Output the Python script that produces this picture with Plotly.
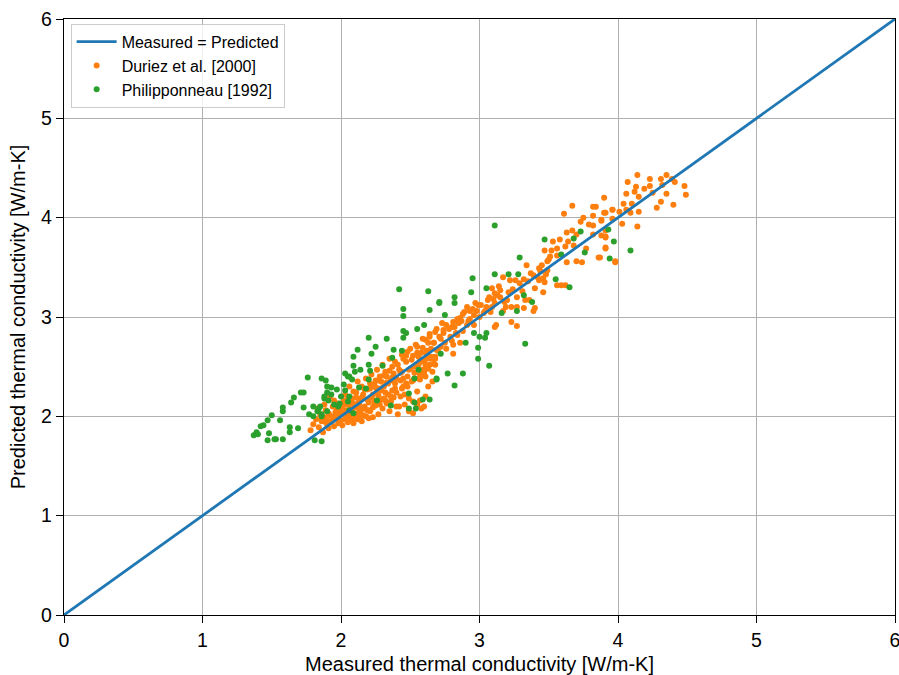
import plotly.graph_objects as go

# Reference line
line_x = [0, 6]
line_y = [0, 6]

# Duriez et al. [2000] (orange)
duriez_x = [
    1.78, 1.80, 1.82, 1.84, 1.85, 1.86, 1.87, 1.88, 1.89, 1.90, 1.91, 1.92, 1.93, 1.94, 1.95, 1.96, 1.97, 1.98, 1.99, 2.00,
    1.83, 1.88, 1.95, 1.92, 1.98,
    2.01, 2.02, 2.03, 2.04, 2.05, 2.06, 2.07, 2.08, 2.09, 2.10, 2.11, 2.12, 2.13, 2.14, 2.15, 2.16, 2.17, 2.18, 2.19, 2.20,
    2.03, 2.06, 2.09, 2.12, 2.15, 2.18, 2.11, 2.07, 2.02, 2.13, 2.16, 2.19, 2.05, 2.08, 2.14, 2.20, 2.04, 2.10,
    2.21, 2.22, 2.23, 2.24, 2.25, 2.26, 2.27, 2.28, 2.29, 2.30, 2.31, 2.32, 2.33, 2.34, 2.35, 2.36, 2.37, 2.38, 2.39, 2.40,
    2.22, 2.25, 2.28, 2.30, 2.33, 2.35, 2.38, 2.21, 2.24, 2.27, 2.31, 2.34, 2.37, 2.26, 2.29, 2.32, 2.36, 2.39, 2.23, 2.40,
    2.41, 2.42, 2.43, 2.44, 2.45, 2.46, 2.47, 2.48, 2.49, 2.50, 2.51, 2.52, 2.53, 2.54, 2.55, 2.56, 2.57, 2.58, 2.59, 2.60,
    2.61, 2.62, 2.63, 2.64, 2.65, 2.66, 2.67, 2.68, 2.69, 2.70,
    2.44, 2.47, 2.50, 2.53, 2.56, 2.59, 2.62, 2.45, 2.48, 2.52, 2.55, 2.58, 2.43, 2.46, 2.42, 2.55, 2.52, 2.57, 2.60, 2.49,
    2.63, 2.66, 2.61,
    2.62, 2.69, 2.58, 2.65, 2.81, 2.61, 2.67, 2.62, 2.57, 2.58, 2.68,
    2.64, 2.71, 2.79, 2.83, 2.61, 2.67, 2.75, 2.81, 2.86, 2.73, 2.74, 2.68, 2.76, 2.80, 2.85, 2.91,
    2.81, 2.86, 2.96, 2.99, 2.91, 2.93, 2.97, 2.88,
    3.06, 3.05, 3.09, 3.11, 3.19, 3.23, 3.27, 3.32, 3.17, 3.09, 3.11, 3.15, 3.20, 3.14, 3.21, 3.27, 3.33, 3.36, 3.40, 3.39,
    3.17, 3.22, 3.26, 3.32, 3.35, 3.40, 3.46, 3.12, 3.11, 3.23, 3.27,
    3.34, 3.43, 3.44, 3.49, 3.39, 3.43, 3.46, 3.47, 3.56, 3.59, 3.62,
    3.53, 3.58, 3.64, 3.52, 3.47, 3.56, 3.62, 3.68, 3.49, 3.51, 3.56, 3.63, 3.70, 3.74, 3.86, 3.98, 3.91, 3.77,
    3.67, 3.82, 3.84, 3.96, 3.61, 3.82, 3.90, 3.75, 3.73, 3.79, 3.88, 3.82, 3.63, 3.67, 3.70, 3.82, 3.91,
    4.14, 4.23, 4.31, 4.35, 4.39, 4.41, 4.07, 4.48, 4.13, 4.23, 4.32, 4.12, 4.19, 4.06, 4.25, 4.35, 4.49, 4.15, 3.90, 4.31,
    4.04, 4.40, 4.28, 4.10, 4.06, 4.09, 4.15, 3.91, 3.96, 4.01, 3.88, 3.96, 4.03, 4.14, 3.91, 3.88, 3.91, 3.91, 3.87, 3.98,
    1.86, 1.89, 1.91, 1.94, 1.97, 1.99, 2.01, 2.03, 2.05, 2.07, 2.09, 2.11, 2.13, 2.15, 2.17, 2.19, 2.21, 2.23, 2.25, 2.27,
    2.29, 2.31, 2.33, 2.35, 2.37, 2.39, 2.41, 2.43, 2.45, 2.47, 2.49, 2.51, 2.53, 2.55, 2.57, 2.59, 2.61, 2.63, 2.65, 2.67,
    1.90, 1.96, 2.00, 2.04, 2.08, 2.12, 2.16, 2.20, 2.24, 2.28, 2.32, 2.36, 2.40, 2.44, 2.48, 2.52, 2.56, 2.60, 2.64, 2.68,
    2.72, 2.76, 2.80, 2.84, 2.88, 2.92, 2.96, 3.00, 3.04, 3.08,
    2.72, 2.74, 2.78, 2.82, 2.84, 2.87, 2.89, 2.93, 2.95, 2.98, 3.01, 3.03, 3.07, 3.10, 3.13, 3.15, 3.18, 3.24, 3.29, 3.31,
    3.37, 3.42, 3.45, 3.48, 3.50,
]
duriez_y = [
    1.86, 1.92, 1.97, 1.89, 2.02, 1.95, 1.84, 1.99, 2.06, 1.92, 1.88, 2.01, 1.95, 2.10, 1.90, 2.04, 1.98, 1.93, 2.08, 1.96,
    2.08, 2.12, 2.16, 2.20, 2.13,
    1.91, 2.03, 1.97, 2.12, 1.94, 2.06, 2.00, 2.18, 1.93, 2.09, 2.02, 1.97, 2.15, 2.05, 1.95, 2.22, 2.10, 2.00, 2.27, 2.14,
    2.22, 2.30, 2.25, 2.35, 2.30, 2.38, 2.19, 2.14, 2.16, 2.08, 2.01, 2.06, 2.02, 1.97, 1.99, 1.98, 1.99, 1.99,
    2.05, 2.19, 1.99, 2.32, 2.11, 2.25, 2.02, 2.40, 2.17, 2.08, 2.30, 2.45, 2.13, 2.22, 2.05, 2.36, 2.50, 2.19, 2.28, 2.10,
    2.42, 2.36, 2.28, 2.52, 2.40, 2.58, 2.43, 2.28, 2.16, 2.21, 2.18, 2.33, 2.26, 2.47, 2.35, 2.24, 2.15, 2.55, 2.09, 2.38,
    2.02, 2.47, 2.20, 2.62, 2.30, 2.12, 2.55, 2.40, 2.05, 2.68, 2.35, 2.15, 2.50, 2.72, 2.25, 2.60, 2.42, 2.08, 2.78, 2.55,
    2.20, 2.66, 2.48, 2.83, 2.60, 2.35, 2.74, 2.52, 2.88, 2.66,
    2.45, 2.33, 2.48, 2.38, 2.52, 2.47, 2.58, 2.58, 2.65, 2.61, 2.70, 2.64, 2.36, 2.22, 2.10, 2.12, 2.03, 2.16, 2.10, 2.18,
    2.30, 2.45, 2.40,
    2.63, 2.67, 2.57, 2.58, 2.63, 2.48, 2.53, 2.50, 2.37, 2.41, 2.58,
    2.80, 2.80, 2.80, 2.84, 2.77, 2.74, 2.74, 2.72, 2.74, 2.94, 2.87, 2.85, 2.92, 2.90, 2.94, 2.92,
    2.95, 2.99, 3.02, 3.12, 3.10, 3.06, 3.14, 3.03,
    3.17, 3.10, 3.10, 3.14, 3.10, 3.10, 3.10, 3.09, 3.06, 3.29, 3.24, 3.20, 3.17, 3.31, 3.25, 3.20, 3.17, 3.17, 3.09, 3.06,
    3.40, 3.37, 3.37, 3.38, 3.36, 3.29, 3.25, 2.92, 2.90, 2.95, 2.91,
    3.52, 3.49, 3.46, 3.47, 3.42, 3.37, 3.39, 3.35, 3.32, 3.32, 3.32,
    3.76, 3.78, 3.76, 3.67, 3.67, 3.69, 3.71, 3.72, 3.56, 3.61, 3.62, 3.55, 3.56, 3.55, 3.60, 3.55, 3.70, 3.69,
    4.12, 4.11, 4.11, 4.08, 4.04, 4.02, 4.05, 4.00, 3.96, 3.93, 3.98, 3.92, 3.85, 3.87, 3.83, 3.83, 3.81,
    4.43, 4.39, 4.39, 4.43, 4.39, 4.36, 4.36, 4.32, 4.31, 4.32, 4.33, 4.26, 4.29, 4.24, 4.25, 4.24, 4.23, 4.21, 4.20, 4.16,
    4.14, 4.13, 4.10, 4.14, 4.08, 4.05, 4.06, 4.05, 4.08, 4.06, 3.97, 3.99, 3.94, 3.91, 3.87, 3.82, 3.80, 3.69, 3.60, 3.56,
    1.98, 1.94, 2.03, 1.99, 2.07, 2.02, 2.11, 2.06, 2.18, 2.09, 2.13, 2.24, 2.12, 2.19, 2.27, 2.17, 2.33, 2.22, 2.29, 2.36,
    2.26, 2.41, 2.34, 2.46, 2.39, 2.33, 2.52, 2.44, 2.38, 2.61, 2.47, 2.57, 2.44, 2.64, 2.55, 2.69, 2.52, 2.74, 2.68, 2.59,
    1.96, 2.00, 2.04, 2.00, 2.05, 2.03, 2.08, 2.06, 2.12, 2.12, 2.16, 2.20, 2.24, 2.28, 2.30, 2.36, 2.38, 2.44, 2.52, 2.60,
    2.70, 2.68, 2.76, 2.82, 2.86, 2.96, 2.92, 3.00, 3.06, 3.05,
    2.78, 2.84, 2.88, 2.90, 2.98, 2.96, 3.05, 2.98, 3.08, 3.06, 3.12, 3.04, 3.20, 3.18, 3.22, 3.27, 3.15, 3.28, 3.34, 3.26,
    3.44, 3.40, 3.52, 3.43, 3.58,
]

# Philipponneau [1992] (green)
phil_x = [
    2.42, 2.63, 2.71, 2.45, 2.45, 2.64, 2.60, 2.55, 2.45, 2.47, 2.45, 2.20, 2.33, 2.25, 2.12, 2.22, 2.09, 2.38, 2.44, 2.37,
    2.09, 2.20, 2.21, 2.14, 2.30, 2.03, 2.06, 2.08, 1.76, 1.86, 1.89, 1.93, 2.03, 2.13, 2.20, 2.18, 1.90, 1.71, 1.73, 1.66,
    1.64, 1.88, 1.91, 2.06, 2.05, 1.99, 1.73, 1.80, 1.84, 1.83, 1.58, 1.58, 1.77, 1.50, 1.47, 1.56, 1.44, 1.42, 1.39, 1.40,
    1.37, 1.48, 1.63, 1.63, 1.69, 1.47, 1.52, 1.53, 1.58, 1.81, 1.86, 2.26, 2.36, 2.49, 2.53, 2.54, 2.49, 2.59, 2.64, 2.69,
    2.53, 2.56, 2.06, 1.98, 2.09, 1.86,
    1.85, 1.90, 1.95, 1.88, 1.93, 2.00, 1.97, 2.02, 1.86, 1.80, 1.90, 2.05, 2.10,
    3.11, 3.47, 3.73, 3.68, 3.93, 3.97, 3.76, 3.94, 3.59, 3.29, 3.11, 3.21, 3.28, 2.95, 3.55, 3.65, 3.05, 2.94, 2.82, 2.82,
    2.71, 3.32, 3.38, 3.27, 3.16, 2.75, 2.96, 3.05, 3.04, 3.00, 2.90, 2.99, 3.33, 2.72, 2.99, 3.07, 2.77, 2.88, 2.69, 2.82,
    4.09,
]
phil_y = [
    3.28, 3.26, 3.14, 3.08, 3.01, 3.07, 2.92, 2.88, 2.86, 2.84, 2.79, 2.79, 2.78, 2.70, 2.67, 2.63, 2.60, 2.67, 2.66, 2.59,
    2.51, 2.52, 2.46, 2.47, 2.51, 2.43, 2.40, 2.37, 2.39, 2.38, 2.36, 2.29, 2.26, 2.29, 2.37, 2.28, 2.24, 2.24, 2.24, 2.19,
    2.14, 2.20, 2.16, 2.20, 2.15, 2.13, 2.09, 2.10, 2.08, 2.05, 2.09, 2.05, 2.02, 2.01, 1.96, 1.96, 1.91, 1.90, 1.84, 1.82,
    1.81, 1.83, 1.89, 1.84, 1.88, 1.76, 1.77, 1.77, 1.77, 1.76, 1.75, 2.16, 2.11, 2.23, 2.14, 2.08, 2.08, 2.17, 2.17, 2.38,
    2.38, 2.47, 2.06, 2.10, 2.03, 2.00,
    2.10, 2.05, 2.12, 2.18, 2.22, 2.20, 2.27, 2.32, 2.02, 2.00, 2.30, 2.40, 2.45,
    3.92, 3.78, 3.86, 3.79, 3.88, 3.76, 3.65, 3.59, 3.63, 3.60, 3.43, 3.43, 3.43, 3.39, 3.38, 3.30, 3.29, 3.25, 3.20, 3.14,
    3.15, 3.22, 3.15, 3.06, 3.04, 3.02, 2.84, 2.84, 2.79, 2.80, 2.74, 2.69, 2.73, 2.63, 2.58, 2.51, 2.43, 2.43, 2.37, 2.31,
    3.67,
]

tick_vals = [0, 1, 2, 3, 4, 5, 6]

FONT = "Liberation Sans, Arial, sans-serif"

fig = go.Figure()
fig.add_trace(go.Scatter(
    x=duriez_x, y=duriez_y, mode="markers", name="Duriez et al. [2000]",
    marker=dict(color="#ff7f0e", size=6, line=dict(width=0)), legendrank=2,
))
fig.add_trace(go.Scatter(
    x=phil_x, y=phil_y, mode="markers", name="Philipponneau [1992]",
    marker=dict(color="#2ca02c", size=6, line=dict(width=0)), legendrank=3,
))
fig.add_trace(go.Scatter(
    x=line_x, y=line_y, mode="lines", name="Measured = Predicted",
    line=dict(color="#1f77b4", width=2.8), legendrank=1,
))

axis_common = dict(
    range=[0, 6], tickvals=tick_vals, ticks="outside", ticklen=7, tickwidth=1.4,
    tickcolor="black", showline=True, linecolor="black", linewidth=1.4, mirror=True,
    showgrid=True, gridcolor="#b0b0b0", gridwidth=1.4, zeroline=False,
    tickfont=dict(family=FONT, size=19.5, color="black"), automargin=False,
    ticklabeloverflow="allow",
)

fig.update_layout(
    width=899, height=675,
    margin=dict(l=64, r=4, t=19, b=60),
    paper_bgcolor="white", plot_bgcolor="white",
    font=dict(family=FONT, size=19.5, color="black"),
    xaxis=dict(**axis_common, title=dict(text="Measured thermal conductivity [W/m-K]",
                                         font=dict(family=FONT, size=20), standoff=8)),
    yaxis=dict(**axis_common, title=dict(text="Predicted thermal conductivity [W/m-K]",
                                         font=dict(family=FONT, size=20), standoff=10)),
    legend=dict(x=0.008, y=0.992, xanchor="left", yanchor="top",
                bgcolor="rgba(255,255,255,0.8)", bordercolor="#cccccc", borderwidth=1,
                font=dict(family=FONT, size=16), itemwidth=40, tracegroupgap=0),
    showlegend=True,
)

fig.write_html("out.html", config={"displayModeBar": False},
               post_script="document.body.style.margin='0';document.body.style.overflow='hidden';")
